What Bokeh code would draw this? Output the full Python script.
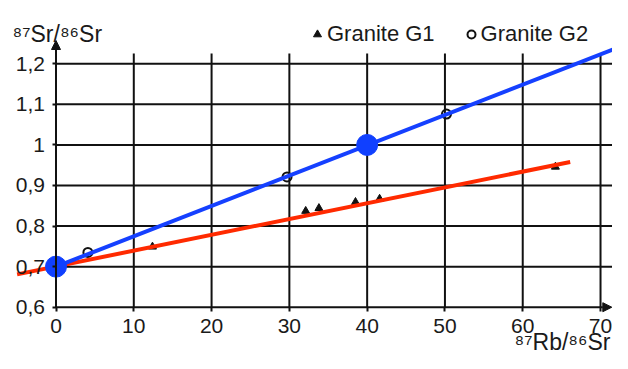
from bokeh.plotting import figure
from bokeh.models import Range1d, FixedTicker, Arrow, NormalHead, Label, Legend, LegendItem
from bokeh.embed import file_html
from bokeh.resources import INLINE

# ---- data ----
x_ticks = [0, 10, 20, 30, 40, 50, 60, 70]
y_ticks = [0.6, 0.7, 0.8, 0.9, 1.0, 1.1, 1.2]
y_tick_labels = ["0,6", "0,7", "0,8", "0,9", "1", "1,1", "1,2"]

g1_x = [12.4, 32.1, 33.8, 38.5, 41.6, 64.2]
g1_y = [0.749, 0.837, 0.844, 0.859, 0.867, 0.946]
g2_x = [4.1, 29.7, 50.2]
g2_y = [0.735, 0.921, 1.076]

red_x = [-5.0, 66.1]
red_y = [0.681, 0.958]
blue_x = [0.0, 72.9]
blue_y = [0.700, 1.245]
iso_x = [0, 40]
iso_y = [0.70, 1.00]

# layout constants
X_MIN, X_MAX = -7.135, 71.54
Y_MIN, Y_MAX = 0.4859, 1.356
GRID_X_END = 71.8
GRID_Y_END = 1.2253
ARROW_Y_END = 1.2574
ARROW_X_END = 71.45

FONT = "Liberation Sans"
TXT = "#1a1a1a"

p = figure(width=612, height=353, x_range=Range1d(X_MIN, X_MAX), y_range=Range1d(Y_MIN, Y_MAX),
           output_backend="svg", toolbar_location=None, min_border=0)
p.outline_line_color = None
p.xgrid.grid_line_color = None
p.ygrid.grid_line_color = None

# axes
p.xaxis.fixed_location = y_ticks[0]
p.yaxis.fixed_location = x_ticks[0]
p.xaxis.ticker = FixedTicker(ticks=x_ticks)
p.yaxis.ticker = FixedTicker(ticks=y_ticks)
p.yaxis.major_label_overrides = {t: l for t, l in zip(y_ticks, y_tick_labels)}
for ax in (p.xaxis[0], p.yaxis[0]):
    ax.axis_line_color = None
    ax.major_tick_line_color = "#111111"
    ax.major_tick_line_width = 2
    ax.major_tick_out = 4
    ax.major_tick_in = 0
    ax.minor_tick_line_color = None
    ax.major_label_text_font = FONT
    ax.major_label_text_font_size = "21px"
    ax.major_label_text_color = TXT
p.yaxis.major_label_standoff = 7
p.xaxis.major_label_standoff = 8

# grid lines
vx = x_ticks[1:]
p.segment(x0=vx, y0=[y_ticks[0]] * len(vx), x1=vx, y1=[GRID_Y_END] * len(vx),
          line_color="#111111", line_width=2)
hy = y_ticks[1:]
p.segment(x0=[x_ticks[0]] * len(hy), y0=hy, x1=[GRID_X_END] * len(hy), y1=hy,
          line_color="#111111", line_width=2)

# axis arrows
p.add_layout(Arrow(end=NormalHead(size=9, fill_color="#111111", line_color="#111111"),
                   x_start=x_ticks[0], y_start=y_ticks[0], x_end=x_ticks[0], y_end=ARROW_Y_END,
                   line_color="#111111", line_width=2))
p.add_layout(Arrow(end=NormalHead(size=9, fill_color="#111111", line_color="#111111"),
                   x_start=x_ticks[0], y_start=y_ticks[0], x_end=ARROW_X_END, y_end=y_ticks[0],
                   line_color="#111111", line_width=2))

# data points
r1 = p.scatter(g1_x, g1_y, marker="triangle", size=8, fill_color="#111111", line_color="#111111")
r2 = p.scatter(g2_x, g2_y, marker="circle", size=9, fill_color=None, line_color="#111111", line_width=2)

# lines
p.line(red_x, red_y, line_color="#ff2a00", line_width=4)
p.line(blue_x, blue_y, line_color="#1540ff", line_width=4)
p.scatter(iso_x, iso_y, marker="circle", size=21, fill_color="#1040ff", line_color="#1040ff")

# legend
legend = Legend(items=[LegendItem(label="Granite G1", renderers=[r1]),
                       LegendItem(label="Granite G2", renderers=[r2])],
                orientation="horizontal", location=(307, 306),
                glyph_width=20, glyph_height=24, label_standoff=0, spacing=26,
                padding=0, margin=0, border_line_color=None, background_fill_alpha=0,
                label_text_font=FONT, label_text_font_size="22px", label_text_color=TXT)
p.add_layout(legend)

# axis titles
p.add_layout(Label(x=12, y=320, x_units="screen", y_units="screen", text="⁸⁷Sr/⁸⁶Sr",
                   text_font=FONT, text_font_size="23px", text_color=TXT, text_baseline="alphabetic"))
p.add_layout(Label(x=610, y=12, x_units="screen", y_units="screen", text="⁸⁷Rb/⁸⁶Sr",
                   text_font=FONT, text_font_size="23px", text_color=TXT, text_align="right",
                   text_baseline="alphabetic"))

open("out.html", "w").write(file_html(p, INLINE))
